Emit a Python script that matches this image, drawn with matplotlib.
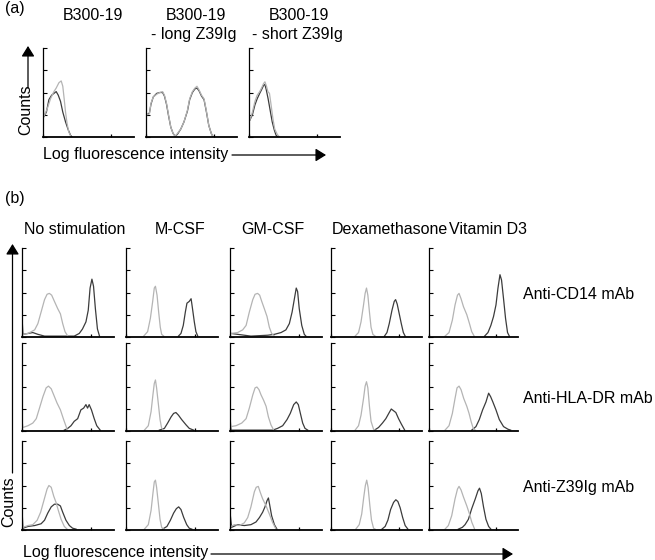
import matplotlib.pyplot as plt
import matplotlib.patches as mpatches
from matplotlib.ticker import LogLocator
import numpy as np

W, H = 655, 560

# ---- text ----
a_titles = ["B300-19", "B300-19", "B300-19"]
a_subtitles = ["", "- long Z39Ig", "- short Z39Ig"]
b_titles = ["No stimulation", "M-CSF", "GM-CSF", "Dexamethasone", "Vitamin D3"]
b_rows = ["Anti-CD14 mAb", "Anti-HLA-DR mAb", "Anti-Z39Ig mAb"]

# ---- histograms: x = log10 fluorescence (decades), y = counts as fraction of axis height ----
# panel (a)
a_light_x = [[0, 0.04, 0.19, 0.33, 0.48, 0.58, 0.70, 0.80, 0.87, 0.93, 0.99, 1.06, 1.13, 1.22],
             [0.04, 0.15, 0.22, 0.32, 0.47, 0.61, 0.73, 0.81, 0.90, 0.99, 1.09, 1.19, 1.28, 1.38, 1.53,
              1.67, 1.82, 1.92, 2.04, 2.15, 2.24, 2.33, 2.44, 2.55, 2.65, 2.76, 2.87, 2.95],
             [0.04, 0.15, 0.26, 0.36, 0.47, 0.55, 0.64, 0.70, 0.77, 0.83, 0.90, 0.96, 1.05, 1.13, 1.24, 1.34]]
a_light_y = [[0.66, 0.23, 0.32, 0.43, 0.51, 0.55, 0.61, 0.63, 0.57, 0.43, 0.28, 0.15, 0.06, 0.01],
             [0.25, 0.26, 0.38, 0.45, 0.48, 0.50, 0.51, 0.47, 0.38, 0.25, 0.11, 0.04, 0.01, 0.04, 0.09,
              0.17, 0.30, 0.43, 0.51, 0.55, 0.57, 0.53, 0.47, 0.43, 0.30, 0.13, 0.04, 0.0],
             [0.19, 0.28, 0.40, 0.47, 0.51, 0.55, 0.60, 0.62, 0.57, 0.51, 0.49, 0.38, 0.21, 0.09, 0.03, 0.0]]
a_dark_x = [[0.04, 0.15, 0.26, 0.38, 0.48, 0.58, 0.67, 0.77, 0.87, 0.99, 1.11, 1.21, 1.28],
            [0.04, 0.15, 0.22, 0.32, 0.47, 0.61, 0.73, 0.81, 0.90, 0.99, 1.09, 1.19, 1.28, 1.38, 1.53,
             1.67, 1.82, 1.92, 2.04, 2.15, 2.24, 2.33, 2.44, 2.55, 2.65, 2.76, 2.87, 2.95],
            [0.04, 0.15, 0.26, 0.36, 0.47, 0.55, 0.64, 0.70, 0.76, 0.84, 0.93, 1.02, 1.11, 1.19, 1.28]]
a_dark_y = [[0.23, 0.28, 0.42, 0.47, 0.49, 0.51, 0.47, 0.40, 0.28, 0.17, 0.08, 0.02, 0.0],
            [0.25, 0.27, 0.37, 0.45, 0.49, 0.50, 0.50, 0.46, 0.37, 0.24, 0.11, 0.04, 0.01, 0.03, 0.09,
             0.17, 0.29, 0.42, 0.50, 0.54, 0.55, 0.52, 0.46, 0.42, 0.29, 0.13, 0.04, 0.0],
            [0.19, 0.25, 0.36, 0.43, 0.49, 0.53, 0.58, 0.59, 0.53, 0.43, 0.30, 0.17, 0.08, 0.02, 0.0]]

# panel (b), row Anti-CD14
cd14_light_x = [[0.04, 0.26, 0.55, 0.69, 0.83, 0.98, 1.09, 1.19, 1.29, 1.41, 1.55, 1.67, 1.77, 1.87, 1.99],
                [0.77, 0.94, 1.06, 1.16, 1.23, 1.28, 1.35, 1.42, 1.49, 1.55, 1.64],
                [0.04, 0.33, 0.55, 0.70, 0.84, 0.99, 1.09, 1.20, 1.29, 1.38, 1.49, 1.61, 1.71, 1.81, 1.93],
                [1.06, 1.21, 1.32, 1.43, 1.50, 1.56, 1.62, 1.69, 1.76, 1.84, 1.94],
                [0.72, 0.90, 1.05, 1.17, 1.28, 1.35, 1.44, 1.55, 1.70, 1.82, 1.92, 2.03]]
cd14_light_y = [[0.03, 0.04, 0.08, 0.15, 0.28, 0.42, 0.48, 0.49, 0.47, 0.40, 0.32, 0.26, 0.15, 0.06, 0.01],
                [0.01, 0.06, 0.21, 0.40, 0.55, 0.57, 0.47, 0.28, 0.11, 0.03, 0.01],
                [0.04, 0.05, 0.08, 0.13, 0.28, 0.42, 0.48, 0.49, 0.47, 0.40, 0.32, 0.23, 0.11, 0.04, 0.01],
                [0.01, 0.05, 0.17, 0.36, 0.49, 0.55, 0.47, 0.28, 0.11, 0.03, 0.01],
                [0.01, 0.05, 0.19, 0.36, 0.47, 0.49, 0.43, 0.34, 0.25, 0.15, 0.06, 0.01]]
cd14_dark_x = [[0.0, 0.04, 0.26, 0.47, 0.69, 0.98, 2.27, 2.49, 2.63, 2.78, 2.88, 2.96, 3.04, 3.11, 3.19, 3.28, 3.37],
               [2.28, 2.39, 2.49, 2.58, 2.65, 2.75, 2.83, 2.88, 2.97, 3.04, 3.12],
               [0.04, 0.33, 0.91, 1.64, 1.93, 2.22, 2.43, 2.58, 2.70, 2.80, 2.88, 2.94, 3.01, 3.12, 3.23, 3.30],
               [2.35, 2.46, 2.56, 2.68, 2.78, 2.84, 2.91, 3.00, 3.09, 3.18, 3.26],
               [2.50, 2.65, 2.78, 2.90, 3.01, 3.10, 3.19, 3.26, 3.35, 3.44, 3.53, 3.61]]
cd14_dark_y = [[0.23, 0.03, 0.04, 0.05, 0.03, 0.01, 0.01, 0.04, 0.09, 0.17, 0.30, 0.55, 0.65, 0.57, 0.32, 0.09, 0.01],
               [0.01, 0.04, 0.13, 0.28, 0.38, 0.40, 0.43, 0.34, 0.17, 0.06, 0.01],
               [0.04, 0.03, 0.01, 0.02, 0.03, 0.05, 0.08, 0.15, 0.28, 0.43, 0.55, 0.51, 0.32, 0.13, 0.03, 0.01],
               [0.01, 0.05, 0.15, 0.30, 0.40, 0.42, 0.37, 0.26, 0.15, 0.05, 0.01],
               [0.01, 0.05, 0.13, 0.23, 0.36, 0.55, 0.70, 0.64, 0.43, 0.21, 0.05, 0.01]]

# panel (b), row Anti-HLA-DR
hla_light_x = [[0.0, 0.04, 0.26, 0.47, 0.62, 0.76, 0.91, 1.05, 1.15, 1.27, 1.38, 1.52, 1.67, 1.81, 1.96],
               [0.80, 0.97, 1.09, 1.17, 1.23, 1.28, 1.33, 1.41, 1.48, 1.55, 1.64],
               [0.04, 0.26, 0.51, 0.70, 0.84, 0.99, 1.09, 1.17, 1.26, 1.35, 1.46, 1.57, 1.67, 1.78, 1.90],
               [1.06, 1.21, 1.32, 1.43, 1.50, 1.56, 1.62, 1.69, 1.76, 1.87, 1.94],
               [0.72, 0.90, 1.05, 1.17, 1.26, 1.35, 1.44, 1.56, 1.70, 1.80, 1.89, 2.00, 2.08]]
hla_light_y = [[0.12, 0.04, 0.06, 0.09, 0.14, 0.26, 0.39, 0.49, 0.51, 0.48, 0.41, 0.32, 0.24, 0.13, 0.02],
               [0.01, 0.06, 0.22, 0.41, 0.54, 0.58, 0.49, 0.30, 0.13, 0.03, 0.01],
               [0.05, 0.06, 0.09, 0.14, 0.26, 0.41, 0.49, 0.50, 0.47, 0.41, 0.35, 0.28, 0.16, 0.07, 0.01],
               [0.01, 0.06, 0.18, 0.37, 0.51, 0.56, 0.49, 0.28, 0.11, 0.02, 0.01],
               [0.01, 0.06, 0.20, 0.37, 0.49, 0.51, 0.47, 0.37, 0.28, 0.20, 0.11, 0.02, 0.01]]
hla_dark_x = [[1.84, 1.99, 2.13, 2.27, 2.42, 2.56, 2.68, 2.78, 2.85, 2.92, 3.02, 3.14, 3.25, 3.40],
              [1.45, 1.67, 1.81, 1.96, 2.07, 2.17, 2.28, 2.42, 2.61, 2.75, 2.94],
              [0.0, 0.04, 1.86, 2.07, 2.29, 2.48, 2.62, 2.77, 2.88, 2.97, 3.06, 3.16, 3.26, 3.38],
              [1.91, 2.09, 2.26, 2.41, 2.56, 2.65, 2.75, 2.85, 2.97, 3.09, 3.24],
              [1.92, 2.11, 2.26, 2.41, 2.56, 2.68, 2.77, 2.87, 3.01, 3.16, 3.35, 3.55, 3.67]]
hla_dark_y = [[0.01, 0.03, 0.06, 0.11, 0.14, 0.24, 0.26, 0.30, 0.26, 0.30, 0.24, 0.14, 0.06, 0.01],
              [0.01, 0.03, 0.09, 0.16, 0.20, 0.21, 0.18, 0.13, 0.07, 0.03, 0.01],
              [0.18, 0.01, 0.01, 0.03, 0.06, 0.13, 0.20, 0.30, 0.33, 0.30, 0.20, 0.09, 0.03, 0.01],
              [0.01, 0.04, 0.09, 0.14, 0.21, 0.25, 0.23, 0.21, 0.14, 0.08, 0.01],
              [0.01, 0.05, 0.13, 0.24, 0.33, 0.43, 0.39, 0.33, 0.24, 0.13, 0.05, 0.02, 0.01]]

# panel (b), row Anti-Z39Ig
z39_light_x = [[0.04, 0.26, 0.47, 0.66, 0.81, 0.95, 1.09, 1.17, 1.27, 1.38, 1.48, 1.58, 1.70, 1.84, 1.96],
               [0.80, 0.97, 1.09, 1.17, 1.23, 1.28, 1.33, 1.41, 1.48, 1.55, 1.64],
               [0.04, 0.19, 0.41, 0.62, 0.77, 0.91, 1.06, 1.14, 1.23, 1.32, 1.42, 1.57, 1.71, 1.86, 2.00],
               [1.09, 1.24, 1.35, 1.44, 1.51, 1.57, 1.63, 1.71, 1.78, 1.87, 1.94],
               [0.72, 0.87, 1.02, 1.17, 1.28, 1.35, 1.44, 1.55, 1.70, 1.82, 1.92, 2.05]]
z39_light_y = [[0.03, 0.05, 0.06, 0.11, 0.20, 0.33, 0.46, 0.50, 0.48, 0.38, 0.31, 0.22, 0.12, 0.04, 0.01],
               [0.01, 0.06, 0.22, 0.41, 0.54, 0.56, 0.48, 0.29, 0.12, 0.03, 0.01],
               [0.04, 0.06, 0.05, 0.08, 0.14, 0.26, 0.43, 0.48, 0.49, 0.42, 0.35, 0.27, 0.18, 0.08, 0.01],
               [0.01, 0.06, 0.18, 0.37, 0.50, 0.56, 0.48, 0.27, 0.11, 0.02, 0.01],
               [0.01, 0.05, 0.16, 0.35, 0.46, 0.49, 0.45, 0.37, 0.27, 0.18, 0.09, 0.01]]
z39_dark_x = [[0.0, 0.04, 0.26, 0.55, 0.83, 0.98, 1.12, 1.27, 1.41, 1.55, 1.67, 1.77, 1.91, 2.06, 2.20, 2.35],
              [1.59, 1.78, 1.93, 2.07, 2.19, 2.29, 2.39, 2.51, 2.64, 2.75, 2.86],
              [0.0, 0.07, 0.33, 0.62, 0.91, 1.13, 1.28, 1.42, 1.52, 1.61, 1.67, 1.72, 1.81, 1.93, 2.04],
              [2.24, 2.38, 2.50, 2.62, 2.75, 2.85, 2.94, 3.04, 3.15, 3.26, 3.38],
              [1.32, 1.50, 1.62, 1.77, 1.92, 2.08, 2.20, 2.27, 2.35, 2.45, 2.56, 2.68, 2.78]]
z39_dark_y = [[0.24, 0.02, 0.04, 0.05, 0.07, 0.11, 0.19, 0.26, 0.29, 0.29, 0.27, 0.20, 0.11, 0.05, 0.02, 0.01],
              [0.01, 0.04, 0.11, 0.19, 0.24, 0.26, 0.23, 0.14, 0.06, 0.02, 0.01],
              [0.20, 0.03, 0.06, 0.05, 0.06, 0.09, 0.14, 0.20, 0.26, 0.33, 0.36, 0.29, 0.16, 0.06, 0.01],
              [0.01, 0.04, 0.11, 0.23, 0.31, 0.34, 0.32, 0.25, 0.14, 0.05, 0.01],
              [0.01, 0.03, 0.06, 0.12, 0.24, 0.35, 0.44, 0.47, 0.41, 0.26, 0.12, 0.04, 0.01]]

LIGHT = "#b4b4b4"
DARK = "#3c3c3c"

plt.rcParams["font.family"] = ["Liberation Sans", "DejaVu Sans"]
FS = 11.5

fig = plt.figure(figsize=(W / 100, H / 100), dpi=100)


def px_axes(left, top, right, bottom):
    return fig.add_axes([left / W, 1 - bottom / H, (right - left) / W, (bottom - top) / H])


def fx(x):
    return x / W


def fy(y):
    return 1 - y / H


def histo(ax, lx, ly, dx, dy):
    ax.plot(10 ** np.array(dx), dy, color=DARK, lw=0.9)
    ax.plot(10 ** np.array(lx), ly, color=LIGHT, lw=0.9)
    ax.set_xscale("log")
    ax.set_xlim(1, 1e4)
    ax.set_ylim(0, 1)
    ax.spines["top"].set_visible(False)
    ax.spines["right"].set_visible(False)
    ax.spines["left"].set_linewidth(0.9)
    ax.spines["bottom"].set_linewidth(1.3)
    ax.set_yticks([0, 0.25, 0.5, 0.75, 1])
    ax.xaxis.set_major_locator(LogLocator(base=10))
    ax.xaxis.set_minor_locator(LogLocator(base=10, subs=np.arange(2, 10)))
    ax.tick_params(axis="y", direction="in", length=3, width=0.8, labelleft=False)
    ax.tick_params(axis="x", which="both", direction="in", length=2.2, width=0.9,
                   labelbottom=False)


def arrow(x0, y0, x1, y1):
    fig.add_artist(mpatches.FancyArrowPatch(
        (fx(x0), fy(y0)), (fx(x1), fy(y1)), transform=fig.transFigure,
        arrowstyle="-|>,head_length=0.45,head_width=0.28", mutation_scale=14,
        lw=0.9, color="black", shrinkA=0, shrinkB=0))


# ---- panel (a) ----
a_lefts = [43, 146, 249]
for i, left in enumerate(a_lefts):
    ax = px_axes(left, 48, left + 91, 137)
    histo(ax, a_light_x[i], a_light_y[i], a_dark_x[i], a_dark_y[i])
    fig.text(fx(left + 50), fy(20.5), a_titles[i], ha="center", va="baseline", fontsize=FS)
    if a_subtitles[i]:
        fig.text(fx(left + 48), fy(39), a_subtitles[i], ha="center", va="baseline", fontsize=FS)

fig.text(fx(5), fy(13), "(a)", ha="left", va="baseline", fontsize=FS)
fig.text(fx(26), fy(110), "Counts", rotation=90, ha="center", va="center", fontsize=FS)
arrow(28, 88, 28, 46)
fig.text(fx(43), fy(159), "Log fluorescence intensity", ha="left", va="baseline", fontsize=FS)
arrow(232, 155, 326, 155)

# ---- panel (b) ----
b_lefts = [22, 126, 230, 331, 429]
b_rights = [114, 218, 322, 422, 518]
b_tops = [248, 343, 441]
b_bottoms = [337, 431, 530]
b_title_cx = [75, 180, 273, 390, 488]
b_row_base = [299, 403, 492]

rows = [(cd14_light_x, cd14_light_y, cd14_dark_x, cd14_dark_y),
        (hla_light_x, hla_light_y, hla_dark_x, hla_dark_y),
        (z39_light_x, z39_light_y, z39_dark_x, z39_dark_y)]

for r, (lx, ly, dx, dy) in enumerate(rows):
    for c in range(5):
        ax = px_axes(b_lefts[c], b_tops[r], b_rights[c], b_bottoms[r])
        histo(ax, lx[c], ly[c], dx[c], dy[c])
    fig.text(fx(523), fy(b_row_base[r]), b_rows[r], ha="left", va="baseline", fontsize=FS)

for c in range(5):
    fig.text(fx(b_title_cx[c]), fy(234), b_titles[c], ha="center", va="baseline", fontsize=FS)

fig.text(fx(5), fy(203), "(b)", ha="left", va="baseline", fontsize=FS)
fig.text(fx(8.5), fy(502), "Counts", rotation=90, ha="center", va="center", fontsize=FS)
arrow(12.5, 473, 12.5, 244)
fig.text(fx(23), fy(557), "Log fluorescence intensity", ha="left", va="baseline", fontsize=FS)
arrow(211, 554, 513, 554)

fig.savefig("out.png", dpi=100)
